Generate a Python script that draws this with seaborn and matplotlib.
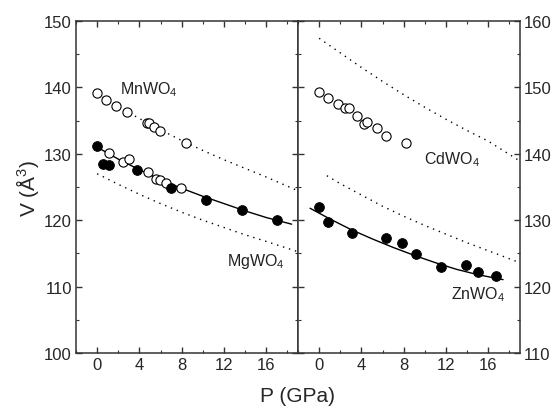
import numpy as np
import pandas as pd
import seaborn as sns
import matplotlib.pyplot as plt
from matplotlib.ticker import MultipleLocator

sns.set_style("ticks")
plt.rcParams['font.family'] = ['Liberation Sans', 'DejaVu Sans']
plt.rcParams['mathtext.default'] = 'regular'

# left panel: MnWO4 (open, upper) and MgWO4 (open + filled)
mn_p = [0, 0.85, 1.8, 2.8, 4.76, 4.95, 5.4, 5.9, 8.4]
mn_v = [139.1, 138.1, 137.2, 136.25, 134.7, 134.6, 134.0, 133.4, 131.6]
mg_open_p = [1.1, 2.4, 3.0, 4.8, 5.6, 5.96, 6.5, 7.9]
mg_open_v = [130.1, 128.8, 129.2, 127.2, 126.2, 126.05, 125.6, 124.85]
mg_fill_p = [0, 0.6, 1.1, 3.8, 7.0, 10.3, 13.7, 17.0]
mg_fill_v = [131.2, 128.5, 128.3, 127.5, 124.8, 123.0, 121.6, 120.0]
# curves
mg_fit_p = [0, 2, 4, 6, 8, 10, 12, 14, 16, 18.4]
mg_fit_v = [131.0, 129.2, 127.6, 126.1, 124.8, 123.6, 122.5, 121.4, 120.4, 119.4]
mn_calc_p = [0, 2, 4, 6, 8, 10, 12, 14, 16, 18.9]
mn_calc_v = [139.0, 137.1, 135.3, 133.6, 132.0, 130.5, 129.1, 127.8, 126.5, 124.5]
mg_calc_p = [0, 2, 4, 6, 8, 10, 12, 14, 16, 18.9]
mg_calc_v = [127.0, 125.4, 123.9, 122.5, 121.2, 120.0, 118.9, 117.8, 116.8, 115.3]

# right panel: CdWO4 (open) and ZnWO4 (filled)
cd_p = [0, 0.83, 1.78, 2.4, 2.82, 3.55, 4.28, 4.57, 5.45, 6.37, 8.2]
cd_v = [149.35, 148.35, 147.45, 146.85, 146.95, 145.75, 144.55, 144.75, 143.9, 142.7, 141.6]
zn_p = [0, 0.8, 3.15, 6.28, 7.82, 9.18, 11.5, 13.9, 15.07, 16.75]
zn_v = [131.95, 129.7, 128.0, 127.3, 126.6, 124.9, 123.0, 123.3, 122.15, 121.6]
zn_fit_p = [-0.86, 1, 3, 5, 7, 9, 11, 13, 15, 17.4]
zn_fit_v = [131.8, 130.2, 128.6, 127.2, 125.9, 124.7, 123.6, 122.6, 121.8, 121.05]
cd_calc_p = [0, 2, 4, 6, 8, 10, 12, 14, 16, 18.9]
cd_calc_v = [157.4, 155.2, 153.0, 150.9, 148.9, 147.0, 145.2, 143.5, 141.9, 139.0]
zn_calc_p = [0.73, 2, 4, 6, 8, 10, 12, 14, 16, 18.9]
zn_calc_v = [136.7, 135.5, 133.8, 132.1, 130.6, 129.2, 127.9, 126.6, 125.4, 123.65]

fig = plt.figure(figsize=(5.56, 4.10), dpi=100)
axL = fig.add_axes([76/556, 1-354/410, 222/556, 332/410])
axR = fig.add_axes([298/556, 1-354/410, 222/556, 332/410])

dot = (0, (1, 3.5))
ms = 44

# left
sns.lineplot(x=mn_calc_p, y=mn_calc_v, ax=axL, color='k', lw=1, linestyle=dot)
sns.lineplot(x=mg_calc_p, y=mg_calc_v, ax=axL, color='k', lw=1, linestyle=dot)
sns.lineplot(x=mg_fit_p, y=mg_fit_v, ax=axL, color='k', lw=1)
sns.scatterplot(x=mn_p, y=mn_v, ax=axL, s=ms, facecolor='white', edgecolor='k', linewidth=0.8, zorder=3)
sns.scatterplot(x=mg_open_p, y=mg_open_v, ax=axL, s=ms, facecolor='white', edgecolor='k', linewidth=0.8, zorder=3)
sns.scatterplot(x=mg_fill_p, y=mg_fill_v, ax=axL, s=ms+6, color='k', edgecolor='k', zorder=4)

# right
sns.lineplot(x=cd_calc_p, y=cd_calc_v, ax=axR, color='k', lw=1, linestyle=dot)
sns.lineplot(x=zn_calc_p, y=zn_calc_v, ax=axR, color='k', lw=1, linestyle=dot)
sns.lineplot(x=zn_fit_p, y=zn_fit_v, ax=axR, color='k', lw=1)
sns.scatterplot(x=cd_p, y=cd_v, ax=axR, s=ms, facecolor='white', edgecolor='k', linewidth=0.8, zorder=3)
sns.scatterplot(x=zn_p, y=zn_v, ax=axR, s=ms+6, color='k', edgecolor='k', zorder=4)

axL.set_ylim(100, 150)
axR.set_ylim(110, 160)
for ax in (axL, axR):
    ax.set_xlim(-2, 19)
    ax.xaxis.set_major_locator(MultipleLocator(4))
    ax.xaxis.set_minor_locator(MultipleLocator(2))
    ax.yaxis.set_major_locator(MultipleLocator(10))
    ax.yaxis.set_minor_locator(MultipleLocator(5))
    ax.tick_params(which='both', direction='in', top=True, bottom=True,
                   left=True, right=True, labelsize=12, color='#333333')
    ax.tick_params(which='major', length=4, width=1, pad=3)
    ax.tick_params(which='minor', length=2.5, width=0.8)
    for sp in ax.spines.values():
        sp.set_linewidth(1.1)
        sp.set_color('#333333')
    ax.set_xlabel('')
    ax.set_ylabel('')

axL.tick_params(labelleft=True, labelright=False)
axR.tick_params(labelleft=False, labelright=True)

axL.set_ylabel('V (Å$^3$)', fontsize=15, labelpad=2)
fig.text(298/556, 1-397/410, 'P (GPa)', fontsize=15, ha='center', va='center')

axL.text(2.2, 139.8, 'MnWO$_4$', fontsize=11.5, va='center', color='#222222')
axL.text(12.3, 113.9, 'MgWO$_4$', fontsize=11.5, va='center', color='#222222')
axR.text(9.9, 139.2, 'CdWO$_4$', fontsize=11.5, va='center', color='#222222')
axR.text(12.5, 118.9, 'ZnWO$_4$', fontsize=11.5, va='center', color='#222222')

fig.savefig('out.png', dpi=100)
